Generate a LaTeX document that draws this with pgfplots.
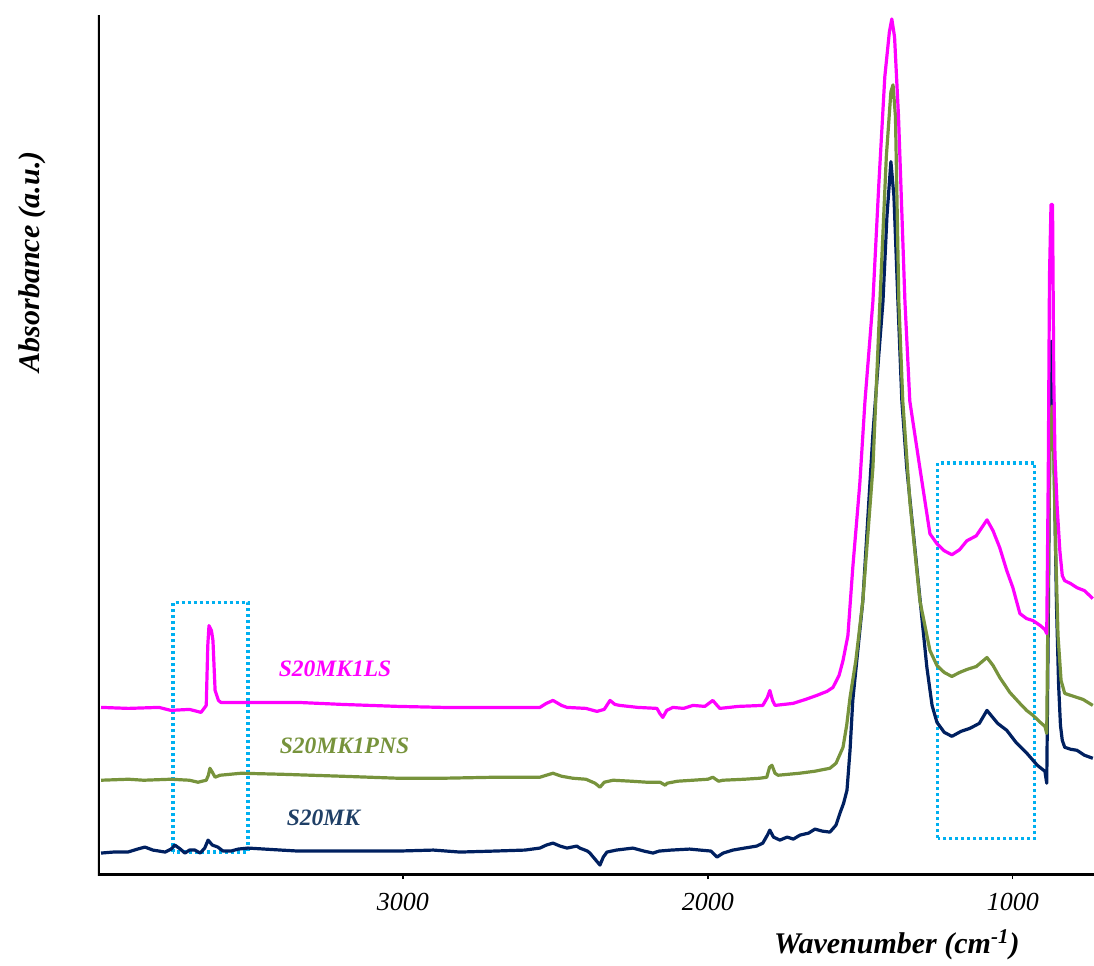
\documentclass[border=0pt]{standalone}
\usepackage{pgfplots}
\pgfplotsset{compat=1.18}
\usepackage{fontspec}
\setmainfont{Liberation Serif}
\definecolor{mag}{HTML}{FF00FF}
\definecolor{grn}{HTML}{77933C}
\definecolor{nav}{HTML}{002060}
\definecolor{navlab}{HTML}{1F3F66}
\definecolor{cy}{HTML}{00B0F0}
\begin{document}
\begin{tikzpicture}
\begin{axis}[
  scale only axis, width=498pt, height=430pt,
  x dir=reverse, xmin=734, xmax=4000, ymin=0, ymax=862,
  axis line style={draw=none},
  xtick={1000,2000,3000}, ytick=\empty,
  xtick pos=left, tick align=outside,
  major tick length=2pt, tick style={black, line width=0.6pt},
  /pgf/number format/1000 sep={},
  /pgf/number format/assume math mode=true,
  xticklabel style={font=\fontsize{13}{15}\selectfont\itshape, yshift=-3.5pt},
  xlabel={Wavenumber (cm\textsuperscript{-1})},
  xlabel style={at={(axis description cs:0.802,-0.0814)}, anchor=center, font=\fontsize{15}{18}\selectfont\bfseries\itshape},
  ylabel={Absorbance (a.u.)},
  ylabel style={at={(axis description cs:-0.066,0.713)}, anchor=center, font=\fontsize{15}{18}\selectfont\bfseries\itshape},
  every axis plot/.append style={line width=1.6pt, line join=round},
]
% dotted boxes
\draw[cy, line width=1.6pt, dash pattern=on 1.5pt off 1.5pt] (axis cs:3754,23) rectangle (axis cs:3508,273);
\draw[cy, line width=1.6pt, dash pattern=on 1.5pt off 1.5pt] (axis cs:1246,37) rectangle (axis cs:928,413);
% S20MK
\addplot[nav] coordinates {(3990,22)(3950,23)(3902,23)(3870,26)(3846,28)(3820,25)(3780,23)(3760,26)(3748,30)(3730,26)(3715,22)(3700,25)(3682,25)(3665,22)(3650,27)(3639,35)(3625,30)(3607,28)(3590,24)(3564,24)(3540,26)(3508,27)(3400,25)(3344,24)(3200,24)(3016,24)(2900,25)(2813,23)(2700,24)(2600,25)(2551,27)(2530,30)(2508,32)(2485,29)(2462,27)(2430,29)(2420,27)(2395,24)(2387,22)(2365,14)(2354,10)(2343,18)(2331,23)(2300,25)(2246,27)(2210,24)(2180,22)(2160,24)(2120,25)(2060,26)(2026,25)(1990,24)(1970,18)(1950,22)(1918,25)(1880,27)(1840,29)(1820,32)(1805,40)(1797,45)(1785,38)(1764,35)(1740,38)(1720,36)(1698,40)(1670,42)(1649,46)(1625,44)(1600,43)(1580,50)(1567,62)(1555,72)(1544,85)(1534,125)(1525,175)(1492,275)(1459,442)(1440,520)(1426,575)(1413,660)(1400,715)(1390,680)(1377,575)(1364,475)(1348,408)(1315,308)(1282,208)(1265,170)(1249,153)(1225,143)(1200,139)(1170,144)(1141,147)(1110,152)(1085,165)(1050,152)(1020,145)(990,133)(954,122)(920,110)(895,104)(889,92)(884,250)(879,450)(874,535)(869,530)(864,400)(857,270)(850,190)(844,150)(838,135)(830,128)(810,126)(790,125)(765,120)(738,117)};
% S20MK1PNS
\addplot[grn] coordinates {(3990,95)(3900,96)(3850,95)(3761,96)(3700,95)(3672,93)(3645,95)(3638,100)(3633,107)(3625,103)(3616,98)(3600,100)(3531,102)(3400,101)(3200,99)(3016,97)(2869,97)(2700,98)(2551,98)(2530,100)(2508,102)(2480,99)(2443,97)(2400,96)(2370,92)(2354,88)(2340,93)(2311,95)(2250,94)(2200,93)(2157,93)(2140,90)(2134,92)(2100,94)(2050,95)(2000,96)(1984,98)(1965,94)(1951,95)(1880,96)(1830,97)(1807,98)(1798,108)(1790,110)(1780,102)(1770,100)(1700,102)(1650,104)(1600,107)(1580,112)(1557,128)(1545,150)(1534,178)(1515,215)(1492,275)(1459,408)(1436,575)(1415,720)(1400,785)(1393,792)(1385,760)(1374,575)(1361,475)(1338,375)(1305,275)(1272,225)(1249,210)(1225,203)(1200,199)(1175,203)(1151,206)(1120,209)(1085,218)(1065,210)(1043,198)(1010,183)(977,172)(955,165)(934,160)(910,153)(895,149)(889,142)(884,300)(878,440)(872,470)(866,420)(860,330)(852,240)(842,195)(830,182)(800,179)(770,176)(738,170)};
% S20MK1LS
\addplot[mag] coordinates {(3990,168)(3900,167)(3800,168)(3761,165)(3700,166)(3662,163)(3645,170)(3640,230)(3636,250)(3628,245)(3623,235)(3616,185)(3605,175)(3597,173)(3518,173)(3344,173)(3200,171)(3016,169)(2869,168)(2700,168)(2551,168)(2530,172)(2508,175)(2480,170)(2462,168)(2400,167)(2364,164)(2340,166)(2321,175)(2305,171)(2289,170)(2230,168)(2167,167)(2158,162)(2148,158)(2135,165)(2115,168)(2080,167)(2049,170)(2010,169)(1984,175)(1970,170)(1961,167)(1900,169)(1820,170)(1805,178)(1797,185)(1788,175)(1780,170)(1721,172)(1680,176)(1643,180)(1610,184)(1590,188)(1570,200)(1557,215)(1541,240)(1525,308)(1502,392)(1485,475)(1459,575)(1440,690)(1420,800)(1405,845)(1397,858)(1388,840)(1375,760)(1354,575)(1338,475)(1305,408)(1272,342)(1249,332)(1225,325)(1200,321)(1175,326)(1151,335)(1120,340)(1085,356)(1065,345)(1043,328)(1020,305)(1000,288)(977,262)(955,257)(934,255)(910,250)(895,246)(889,242)(884,400)(880,600)(875,672)(870,672)(866,500)(862,420)(855,370)(846,325)(838,300)(830,295)(810,292)(790,288)(765,285)(738,277)};
% labels
\node[text=mag, font=\fontsize{11.75}{14}\selectfont\bfseries\itshape, anchor=west] at (axis cs:3430,207) {S20MK1LS};
\node[text=grn, font=\fontsize{11.75}{14}\selectfont\bfseries\itshape, anchor=west] at (axis cs:3427,130) {S20MK1PNS};
\node[text=navlab, font=\fontsize{11.75}{14}\selectfont\bfseries\itshape, anchor=west] at (axis cs:3404,57) {S20MK};
% axis lines
\draw[black, line width=2.2pt] (axis description cs:0,1) -- (axis description cs:0,0) -- (axis description cs:1,0);
\end{axis}
\pgfresetboundingbox
\path[use as bounding box] ([xshift=-49pt,yshift=-45pt]current axis.south west) rectangle ([yshift=7.5pt]current axis.north east);
\end{tikzpicture}
\end{document}
